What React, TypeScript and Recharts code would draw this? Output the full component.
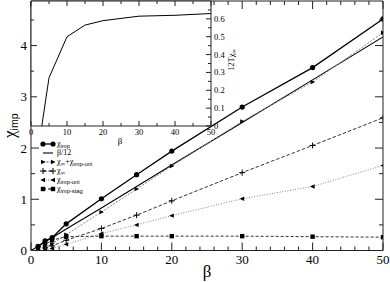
import React from 'react';
import { LineChart, Line, XAxis, YAxis, CartesianGrid } from 'recharts';

// main panel: susceptibilities vs beta
const beta = [0, 1, 2, 3, 5, 10, 15, 20, 30, 40, 50];
const chiImp = [null, 0.08, 0.19, 0.25, 0.52, 1.01, 1.48, 1.94, 2.8, 3.57, 4.52];
const betaOver12 = [0, 0.08, 0.17, 0.25, 0.42, 0.83, 1.25, 1.67, 2.5, 3.33, 4.17];
const chiInfPlusUni = [null, null, 0.06, 0.13, 0.31, 0.75, 1.2, 1.65, 2.52, 3.29, 4.25];
const chiInf = [null, null, 0.05, 0.09, 0.2, 0.43, 0.69, 0.97, 1.52, 2.05, 2.59];
const chiUni = [null, null, 0.01, 0.04, 0.12, 0.33, 0.5, 0.68, 1.01, 1.25, 1.66];
const chiStag = [null, 0.05, 0.12, 0.2, 0.27, 0.28, 0.28, 0.28, 0.28, 0.27, 0.26];

// inset: 12 T chi_inf vs beta
const insetBeta = [3, 5, 10, 15, 20, 30, 40, 50];
const insetVal = [0, 0.27, 0.5, 0.565, 0.59, 0.615, 0.62, 0.63];

const xTicks = [0, 2, 4, 6, 8, 10, 12, 14, 16, 18, 20, 22, 24, 26, 28, 30, 32, 34, 36, 38, 40, 42, 44, 46, 48, 50];
const yTicks = [0, 0.5, 1, 1.5, 2, 2.5, 3, 3.5, 4, 4.5];
const insetXTicks = [0, 5, 10, 15, 20, 25, 30, 35, 40, 45, 50];
const insetRTicks = [0, 0.05, 0.1, 0.15, 0.2, 0.25, 0.3, 0.35, 0.4, 0.45, 0.5, 0.55, 0.6, 0.65];
const insetLTicks = [3, 3.5, 4, 4.5];

const data = beta.map((b, i) => ({
  beta: b,
  chiImp: chiImp[i],
  betaOver12: betaOver12[i],
  chiInfPlusUni: chiInfPlusUni[i],
  chiInf: chiInf[i],
  chiUni: chiUni[i],
  chiStag: chiStag[i],
}));
const insetData = insetBeta.map((b, i) => ({ beta: b, v: insetVal[i] }));

const serif = '"Liberation Serif", "DejaVu Serif", serif';
const sans = '"Liberation Sans", Arial, sans-serif';
const axisColor = '#222';

const isMajor = (v: number, step: number) => Math.abs(v / step - Math.round(v / step)) < 1e-6;

// ticks drawn by hand so they point inwards, xmgrace style
const BottomTick = (step: number, len: number, minor: number, fs: number, dy: number, show: boolean) => (p: any) => {
  const major = isMajor(p.payload.value, step);
  return (
    <g>
      <line x1={p.x} x2={p.x} y1={p.y} y2={p.y - (major ? len : minor)} stroke={axisColor} />
      {show && major && (
        <text x={p.x} y={p.y + dy} textAnchor="middle" fontSize={fs} fontFamily={serif} fill="#000">
          {p.payload.value}
        </text>
      )}
    </g>
  );
};
const TopTick = (step: number, len: number, minor: number) => (p: any) => {
  const major = isMajor(p.payload.value, step);
  return <line x1={p.x} x2={p.x} y1={p.y} y2={p.y + (major ? len : minor)} stroke={axisColor} />;
};
const LeftTick = (step: number, len: number, minor: number, fs: number, show: boolean) => (p: any) => {
  const major = isMajor(p.payload.value, step);
  return (
    <g>
      <line x1={p.x} x2={p.x + (major ? len : minor)} y1={p.y} y2={p.y} stroke={axisColor} />
      {show && major && (
        <text x={p.x - 4} y={p.y + fs * 0.35} textAnchor="end" fontSize={fs} fontFamily={serif} fill="#000">
          {p.payload.value}
        </text>
      )}
    </g>
  );
};
const RightTick = (step: number, len: number, minor: number, fs: number, show: boolean) => (p: any) => {
  const major = isMajor(p.payload.value, step);
  return (
    <g>
      <line x1={p.x} x2={p.x - (major ? len : minor)} y1={p.y} y2={p.y} stroke={axisColor} />
      {show && major && (
        <text x={p.x + 3} y={p.y + fs * 0.35} textAnchor="start" fontSize={fs} fontFamily={serif} fill="#000">
          {p.payload.value}
        </text>
      )}
    </g>
  );
};

// markers
const Circle = ({ cx, cy }: any) => <circle cx={cx} cy={cy} r={2.6} fill="#000" />;
const Square = ({ cx, cy }: any) => <rect x={cx - 2.2} y={cy - 2.2} width={4.4} height={4.4} fill="#000" />;
const Plus = ({ cx, cy }: any) => (
  <g stroke="#000" strokeWidth={1}>
    <line x1={cx - 3} x2={cx + 3} y1={cy} y2={cy} />
    <line x1={cx} x2={cx} y1={cy - 3} y2={cy + 3} />
  </g>
);
const TriR = ({ cx, cy }: any) => <path d={`M${cx + 2.6},${cy} L${cx - 2},${cy - 2.2} L${cx - 2},${cy + 2.2} Z`} fill="#000" />;
const TriL = ({ cx, cy }: any) => <path d={`M${cx - 2.6},${cy} L${cx + 2},${cy - 2.2} L${cx + 2},${cy + 2.2} Z`} fill="#000" />;

const dot = (Shape: any) => (p: any) => {
  if (p.cy == null || p.value == null) return <g key={p.key} />;
  return <Shape key={p.key} cx={p.cx} cy={p.cy} />;
};

const series = [
  { key: 'chiImp', color: '#000', width: 1.3, dash: undefined, Shape: Circle, label: ['χ', 'imp', ''] },
  { key: 'betaOver12', color: '#000', width: 1.1, dash: undefined, Shape: null, label: ['β/12', '', ''] },
  { key: 'chiInfPlusUni', color: '#888', width: 1, dash: '2 1.5', Shape: TriR, label: ['χ', '∞', '+χ', 'imp-uni'] },
  { key: 'chiInf', color: '#333', width: 1, dash: '3.5 2', Shape: Plus, label: ['χ', '∞', ''] },
  { key: 'chiUni', color: '#888', width: 1, dash: '1 1.6', Shape: TriL, label: ['χ', 'imp-uni', ''] },
  { key: 'chiStag', color: '#333', width: 1, dash: '3 2', Shape: Square, label: ['χ', 'imp-stag', ''] },
];

const LegendBox = () => (
  <svg width={80} height={58}>
    {series.map((s, i) => {
      const y = 5 + i * 9;
      const l = s.label;
      return (
        <g key={s.key}>
          <line x1={5} x2={15} y1={y} y2={y} stroke={s.color === '#888' ? '#555' : '#000'} strokeWidth={s.width} strokeDasharray={s.dash} />
          {s.Shape && <s.Shape cx={5} cy={y} />}
          {s.Shape && <s.Shape cx={15} cy={y} />}
          <text x={19} y={y + 2} fontSize={8} fontFamily={serif} fill="#000">
            <tspan>{l[0]}</tspan>
            {l[1] && (
              <tspan dy={2} fontSize={l[1] === '∞' ? 6.5 : 5.8} fontFamily={l[1] === '∞' ? serif : sans}>
                {l[1]}
              </tspan>
            )}
            {l[2] && <tspan dy={-2}>{l[2]}</tspan>}
            {l[3] && (
              <tspan dy={2} fontSize={5.8} fontFamily={sans}>
                {l[3]}
              </tspan>
            )}
          </text>
        </g>
      );
    })}
  </svg>
);

const YTitle = () => (
  <text transform="rotate(-90, 15, 138)" x={15} y={138} fontFamily={serif} fill="#000">
    <tspan fontSize={17}>χ</tspan>
    <tspan dy={3} fontSize={10.5} fontFamily={sans}>imp</tspan>
  </text>
);

const common = { type: 'number' as const, interval: 0 as const, tickSize: 0, tickMargin: 0, tickLine: false, stroke: axisColor, allowDataOverflow: true };

export default function App() {
  return (
    <div style={{ position: 'absolute', left: 0, top: 0, width: 390, height: 282, background: '#fff' }}>
      <div style={{ position: 'absolute', left: 0, top: 0 }}>
        <LineChart width={390} height={282} data={data} margin={{ top: 0, right: 6, bottom: 30.5, left: 30 }}>
          <XAxis
            {...common}
            xAxisId="b"
            dataKey="beta"
            domain={[0, 50]}
            ticks={xTicks}
            height={1}
            tick={BottomTick(10, 8, 4, 13, 13, true)}
            label={{
              content: () => (
                <text x={207} y={277} textAnchor="middle" fontSize={17} fontFamily={serif} fill="#000">
                  β
                </text>
              ),
            }}
          />
          <XAxis
            {...common}
            xAxisId="t"
            orientation="top"
            dataKey="beta"
            domain={[0, 50]}
            ticks={xTicks}
            height={1}
            tick={TopTick(10, 8, 4)}
          />
          <YAxis
            {...common}
            yAxisId="l"
            domain={[0, 4.87]}
            ticks={yTicks}
            width={1}
            tick={LeftTick(1, 8, 4, 13, true)}
            label={{ content: () => <YTitle /> }}
          />
          <YAxis
            {...common}
            yAxisId="r"
            orientation="right"
            domain={[0, 4.87]}
            ticks={yTicks}
            width={1}
            tick={RightTick(1, 8, 4, 13, false)}
          />
          {series.map((s) => (
            <Line
              key={s.key}
              xAxisId="b"
              yAxisId="l"
              dataKey={s.key}
              type="linear"
              stroke={s.color}
              strokeWidth={s.width}
              strokeDasharray={s.dash}
              dot={s.Shape ? dot(s.Shape) : false}
              activeDot={false}
              isAnimationActive={false}
            />
          ))}
          <Line xAxisId="t" yAxisId="r" dataKey="betaOver12" stroke="none" dot={false} activeDot={false} isAnimationActive={false} />
        </LineChart>
      </div>
      <div style={{ position: 'absolute', left: 0, top: 0 }}>
        <LineChart width={250} height={150} data={insetData} margin={{ top: 0, right: 38, bottom: 23, left: 30 }}>
          <CartesianGrid horizontal={false} vertical={false} fill="#fff" xAxisId="b" yAxisId="r" />
          <XAxis
            {...common}
            xAxisId="b"
            dataKey="beta"
            domain={[0, 50]}
            ticks={insetXTicks}
            height={1}
            tick={BottomTick(10, 5, 3, 8.5, 9, true)}
            label={{
              content: () => (
                <text x={120} y={144} textAnchor="middle" fontSize={9} fontFamily={serif} fill="#000">
                  β
                </text>
              ),
            }}
          />
          <XAxis
            {...common}
            xAxisId="t"
            orientation="top"
            dataKey="beta"
            domain={[0, 50]}
            ticks={insetXTicks}
            height={1}
            tick={TopTick(10, 5, 3)}
          />
          <YAxis
            {...common}
            yAxisId="l"
            domain={[2.43, 4.87]}
            ticks={insetLTicks}
            width={1}
            tick={LeftTick(1, 6, 3, 8, false)}
          />
          <YAxis
            {...common}
            yAxisId="r"
            orientation="right"
            domain={[0, 0.7]}
            ticks={insetRTicks}
            width={1}
            tick={RightTick(0.1, 5, 3, 8.5, true)}
            label={{
              content: () => (
                <text transform="rotate(-90, 234, 60)" x={234} y={60} textAnchor="middle" fontSize={8.5} fontFamily={serif} fill="#000">
                  <tspan>12Tχ</tspan>
                  <tspan dy={2} fontSize={6.5}>∞</tspan>
                </text>
              ),
            }}
          />
          <Line xAxisId="t" yAxisId="l" dataKey="v" stroke="none" dot={false} activeDot={false} isAnimationActive={false} />
          <Line
            xAxisId="b"
            yAxisId="r"
            dataKey="v"
            type="linear"
            stroke="#000"
            strokeWidth={1}
            dot={false}
            activeDot={false}
            isAnimationActive={false}
          />
        </LineChart>
      </div>
      <div style={{ position: 'absolute', left: 38, top: 139 }}>
        <LegendBox />
      </div>
    </div>
  );
}
